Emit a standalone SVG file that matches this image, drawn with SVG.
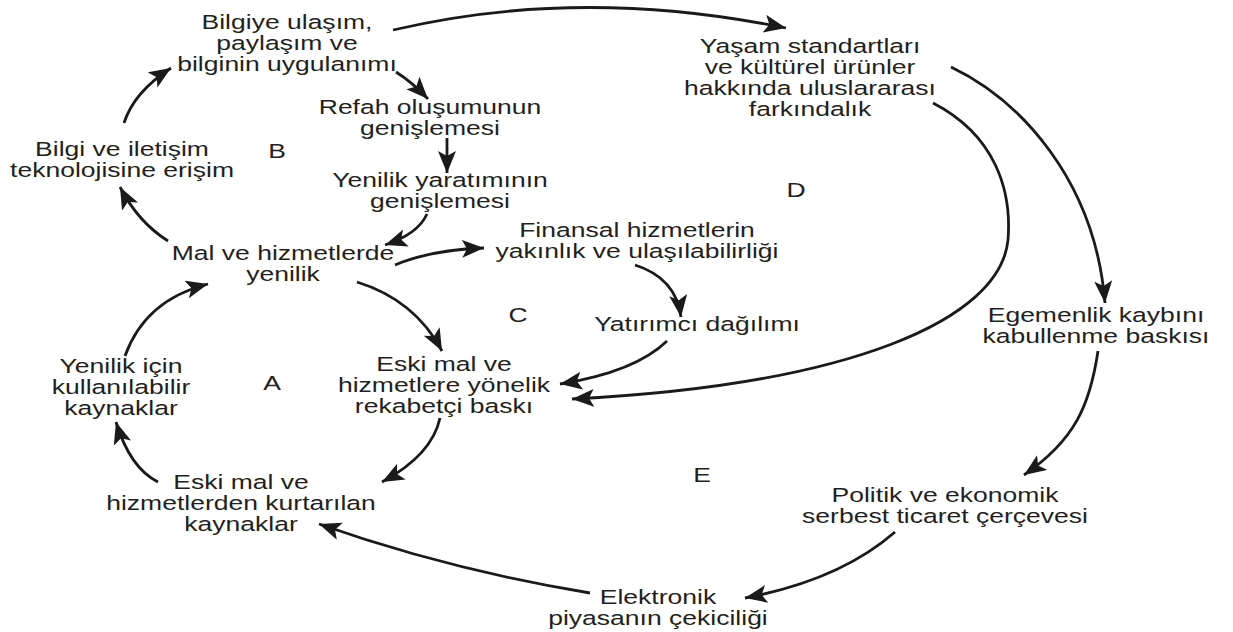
<svg xmlns="http://www.w3.org/2000/svg" width="1233" height="632" viewBox="0 0 1233 632">
<style>
.t { font-family: "Liberation Sans", Arial, sans-serif; font-size: 19.5px; fill: #231f20; text-anchor: middle; }
.c { fill: none; stroke: #1a1a1a; stroke-width: 2.8; marker-end: url(#ah); }
</style>
<defs>
<marker id="ah" markerUnits="userSpaceOnUse" markerWidth="24" markerHeight="20" refX="22" refY="9" orient="auto">
<path d="M0,0 L22,9 L0,18 L5,9 z" fill="#1a1a1a"/>
</marker>
</defs>
<rect width="1233" height="632" fill="#ffffff"/>
<g id="connectors">
<path class="c" d="M393,30 Q580,-14 786,28"/>
<path class="c" d="M396,72 Q412,82 428,99"/>
<path class="c" d="M447,138 L447,173"/>
<path class="c" d="M427,214 Q418,234 385,245"/>
<path class="c" d="M168,241 Q138,222 120,187"/>
<path class="c" d="M124,123 Q134,92 171,68"/>
<path class="c" d="M395,265 Q430,250 484,248"/>
<path class="c" d="M357,282 Q415,300 442,351"/>
<path class="c" d="M635,265 Q676,278 681,317"/>
<path class="c" d="M667,341 Q635,372 560,384"/>
<path class="c" d="M933,103 C995,135 1012,190 1008,240 C1000,320 850,385 572,399"/>
<path class="c" d="M951,67 C1020,100 1095,180 1105,303"/>
<path class="c" d="M1098,351 C1090,405 1075,440 1024,475"/>
<path class="c" d="M895,532 Q840,580 745,598"/>
<path class="c" d="M590,593 Q450,570 319,524"/>
<path class="c" d="M440,418 Q432,455 382,482"/>
<path class="c" d="M158,482 Q130,468 116,422"/>
<path class="c" d="M125,356 Q145,300 208,284"/>
</g>
<g id="n1"><text class="t" transform="translate(287 0) scale(1.36 1)"><tspan x="0" y="29">Bilgiye ulaşım,</tspan><tspan x="0" y="50">paylaşım ve</tspan><tspan x="0" y="71">bilginin uygulanımı</tspan></text></g>
<g id="n2"><text class="t" transform="translate(430 0) scale(1.36 1)"><tspan x="0" y="114">Refah oluşumunun</tspan><tspan x="0" y="135">genişlemesi</tspan></text></g>
<g id="n3"><text class="t" transform="translate(440 0) scale(1.36 1)"><tspan x="0" y="187">Yenilik yaratımının</tspan><tspan x="0" y="208">genişlemesi</tspan></text></g>
<g id="n4"><text class="t" transform="translate(283 0) scale(1.36 1)"><tspan x="0" y="260">Mal ve hizmetlerde</tspan><tspan x="0" y="281">yenilik</tspan></text></g>
<g id="n5"><text class="t" transform="translate(122 0) scale(1.36 1)"><tspan x="0" y="156">Bilgi ve iletişim</tspan><tspan x="0" y="177">teknolojisine erişim</tspan></text></g>
<g id="n6"><text class="t" transform="translate(810 0) scale(1.36 1)"><tspan x="0" y="53">Yaşam standartları</tspan><tspan x="0" y="74">ve kültürel ürünler</tspan><tspan x="0" y="95">hakkında uluslararası</tspan><tspan x="0" y="116">farkındalık</tspan></text></g>
<g id="n7"><text class="t" transform="translate(637 0) scale(1.36 1)"><tspan x="0" y="237">Finansal hizmetlerin</tspan><tspan x="0" y="258">yakınlık ve ulaşılabilirliği</tspan></text></g>
<g id="n8"><text class="t" transform="translate(697 0) scale(1.36 1)"><tspan x="0" y="331">Yatırımcı dağılımı</tspan></text></g>
<g id="n9"><text class="t" transform="translate(444 0) scale(1.36 1)"><tspan x="0" y="371">Eski mal ve</tspan><tspan x="0" y="392">hizmetlere yönelik</tspan><tspan x="0" y="413">rekabetçi baskı</tspan></text></g>
<g id="n10"><text class="t" transform="translate(121 0) scale(1.36 1)"><tspan x="0" y="373">Yenilik için</tspan><tspan x="0" y="394">kullanılabilir</tspan><tspan x="0" y="415">kaynaklar</tspan></text></g>
<g id="n11"><text class="t" transform="translate(241 0) scale(1.36 1)"><tspan x="0" y="489">Eski mal ve</tspan><tspan x="0" y="510">hizmetlerden kurtarılan</tspan><tspan x="0" y="531">kaynaklar</tspan></text></g>
<g id="n12"><text class="t" transform="translate(1096 0) scale(1.36 1)"><tspan x="0" y="322">Egemenlik kaybını</tspan><tspan x="0" y="343">kabullenme baskısı</tspan></text></g>
<g id="n13"><text class="t" transform="translate(945 0) scale(1.36 1)"><tspan x="0" y="502">Politik ve ekonomik</tspan><tspan x="0" y="523">serbest ticaret çerçevesi</tspan></text></g>
<g id="n14"><text class="t" transform="translate(658 0) scale(1.36 1)"><tspan x="0" y="604">Elektronik</tspan><tspan x="0" y="625">piyasanın çekiciliği</tspan></text></g>
<g id="labels">
<text class="t" transform="translate(272 0) scale(1.36 1)" x="0" y="390">A</text>
<text class="t" transform="translate(277 0) scale(1.36 1)" x="0" y="158">B</text>
<text class="t" transform="translate(518 0) scale(1.36 1)" x="0" y="322">C</text>
<text class="t" transform="translate(796 0) scale(1.36 1)" x="0" y="197">D</text>
<text class="t" transform="translate(702 0) scale(1.36 1)" x="0" y="482">E</text>
</g>
</svg>
